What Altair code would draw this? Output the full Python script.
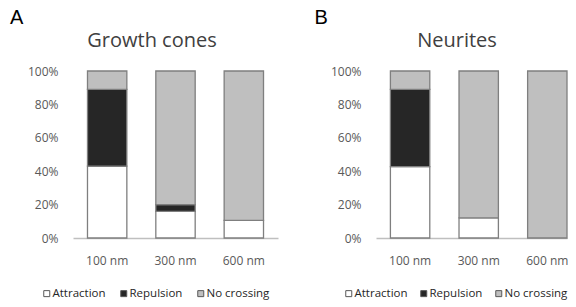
import altair as alt
import pandas as pd

sizes = ["100 nm", "300 nm", "600 nm"]
outcomes = ["Attraction", "Repulsion", "No crossing"]
outcome_colors = ["#ffffff", "#262626", "#bfbfbf"]

growth_attraction = [43.0, 16.0, 10.5]
growth_repulsion = [46.0, 4.0, 0.0]
growth_nocross = [11.0, 80.0, 89.5]

neurite_attraction = [42.7, 12.0, 0.0]
neurite_repulsion = [46.3, 0.0, 0.0]
neurite_nocross = [11.0, 88.0, 100.0]

panel_titles = ["Growth cones", "Neurites"]
panel_letters = ["A", "B"]
y_ticks = [0, 20, 40, 60, 80, 100]

FONT = "Open Sans"


def panel(att, rep, noc, title, letter, legend_x, legend_pad, letter_x, title_x, width, x_scale):
    rows = []
    for i, s in enumerate(sizes):
        for k, (o, v) in enumerate(zip(outcomes, [att[i], rep[i], noc[i]])):
            rows.append({"size": s, "outcome": o, "order": k, "value": v})
    df = pd.DataFrame(rows)

    bars = alt.Chart(df).transform_filter("datum.value > 0").mark_bar(
        stroke="#7f7f7f", strokeWidth=1.3
    ).encode(
        x=alt.X("size:N", sort=sizes, scale=x_scale,
                axis=alt.Axis(title=None, labelAngle=0, ticks=False, tickSize=0,
                              domainColor="#bfbfbf", domainWidth=1.5,
                              labelPadding=17, labelFont=FONT, labelFontSize=12,
                              labelColor="#595959", grid=False)),
        y=alt.Y("value:Q", stack="zero",
                scale=alt.Scale(domain=[0, 100], nice=False),
                axis=alt.Axis(title=None, values=y_ticks, labelExpr="datum.value + '%'",
                              domain=False, ticks=False, tickSize=0, grid=False,
                              labelPadding=15, labelFont=FONT, labelFontSize=12,
                              labelColor="#595959")),
        color=alt.Color("outcome:N",
                        scale=alt.Scale(domain=outcomes, range=outcome_colors),
                        legend=alt.Legend(orient="none", legendX=legend_x, legendY=216.5,
                                          direction="horizontal", title=None,
                                          symbolType="square", symbolSize=36,
                                          symbolStrokeColor="#595959", symbolStrokeWidth=1,
                                          labelFont=FONT, labelFontSize=11.5,
                                          labelColor="#262626", columnPadding=legend_pad,
                                          labelOffset=0, padding=0)),
        order=alt.Order("order:Q", sort="ascending"),
    )

    title_layer = alt.Chart(pd.DataFrame({"t": [title]})).mark_text(
        font=FONT, fontSize=20, color="#404040", baseline="alphabetic", align="center"
    ).encode(x=alt.value(title_x), y=alt.value(-24), text="t:N")

    letter_layer = alt.Chart(pd.DataFrame({"t": [letter]})).mark_text(
        font="Liberation Sans", fontSize=20, color="#000000", baseline="alphabetic", align="left"
    ).encode(x=alt.value(letter_x), y=alt.value(-47), text="t:N")

    return alt.layer(bars, title_layer, letter_layer).properties(width=width, height=167)


pa = panel(growth_attraction, growth_repulsion, growth_nocross,
           panel_titles[0], panel_letters[0], -32, 12, -63, 79, 205,
           alt.Scale(paddingInner=0.424, paddingOuter=0.212))
pb = panel(neurite_attraction, neurite_repulsion, neurite_nocross,
           panel_titles[1], panel_letters[1], -33, 10, -61.5, 81, 191,
           alt.Scale(paddingInner=0.426, paddingOuter=0.105, align=1))

chart = alt.hconcat(pa, pb, spacing=98, bounds="flush").resolve_scale(
    color="independent"
).properties(
    padding={"left": 2, "top": 0, "right": 0, "bottom": 0}
).configure_view(stroke=None)

chart.save("out.html", embed_options={"renderer": "svg", "actions": False})
